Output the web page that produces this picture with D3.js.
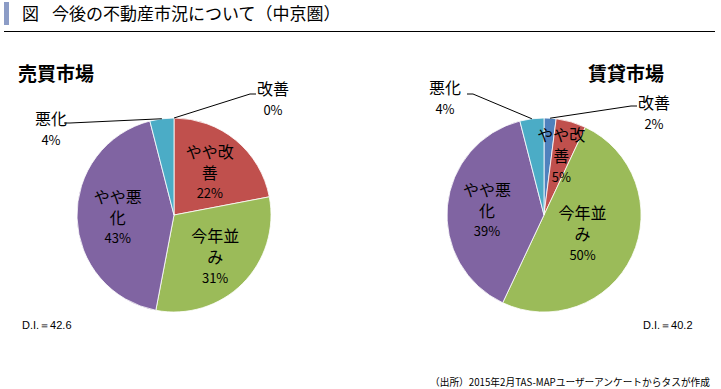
<!DOCTYPE html>
<html>
<head>
<meta charset="utf-8">
<script src="https://cdn.jsdelivr.net/npm/d3@7"></script>
<style>
  body { margin: 0; background: #fff; }
  svg { display: block; font-family: "Noto Sans CJK JP", sans-serif; }
</style>
</head>
<body>
<svg id="chart" width="721" height="389"></svg>
<script>
// Data
const categories = ["改善", "やや改善", "今年並み", "やや悪化", "悪化"];
const salesValues = [0, 22, 31, 43, 4];     // 売買市場
const rentValues = [2, 5, 50, 39, 4];       // 賃貸市場
const labelLines = [["改善"], ["やや改", "善"], ["今年並", "み"], ["やや悪", "化"], ["悪化"]];
const colors = ["#4F81BD", "#C0504D", "#9BBB59", "#8064A2", "#4BACC6"];

const svg = d3.select("#chart");

// Title
svg.append("rect")
    .attr("x", 4).attr("y", 2).attr("width", 5).attr("height", 23)
    .attr("fill", "#8c9cc6");
svg.append("text")
    .attr("x", 22).attr("y", 20)
    .style("font-size", "17px")
    .text("図");
svg.append("text")
    .attr("x", 52).attr("y", 20)
    .style("font-size", "17px")
    .text("今後の不動産市況について（中京圏）");
svg.append("line")
    .attr("x1", 4).attr("x2", 715)
    .attr("y1", 31.5).attr("y2", 31.5)
    .attr("stroke", "#000").attr("stroke-width", 1);

// Pie layouts
const radius = 97;
const charts = [
    {
        title: "売買市場", titleX: 18, values: salesValues,
        cx: 174, cy: 215, di: "D.I.＝42.6", diX: 22,
        labelR: [0, 0.58, 0.6, 0.58, 0],
        outside: { 0: { x: 257, y: 88, lx: 250, ly: 94 }, 4: { x: 35, y: 118, lx: 70, ly: 123 } }
    },
    {
        title: "賃貸市場", titleX: 588, values: rentValues,
        cx: 544, cy: 215, di: "D.I.＝40.2", diX: 643,
        labelR: [0, 0.64, 0.44, 0.59, 0],
        outside: { 0: { x: 638, y: 102, lx: 631, ly: 106 }, 4: { x: 429, y: 87, lx: 473, ly: 94 } }
    }
];

const pie = d3.pie().sort(null).value(d => d);
const arc = d3.arc().innerRadius(0).outerRadius(radius);

charts.forEach(c => {
    const g = svg.append("g").attr("transform", `translate(${c.cx},${c.cy})`);
    const arcs = pie(c.values);

    // slices
    g.selectAll("path.slice")
        .data(arcs)
        .enter()
        .append("path")
        .attr("class", "slice")
        .attr("d", arc)
        .attr("fill", (d, i) => colors[i])
        .attr("stroke", "#fff")
        .attr("stroke-width", 0.8);

    // inside labels, one text per line
    arcs.forEach((d, i) => {
        if (c.outside[i]) return;
        const r = radius * c.labelR[i];
        const a = (d.startAngle + d.endAngle) / 2;
        const x = Math.sin(a) * r;
        const y = -Math.cos(a) * r;
        const lines = labelLines[i].concat([c.values[i] + "%"]);
        lines.forEach((s, k) => {
            g.append("text")
                .attr("x", x)
                .attr("y", y + (k - (lines.length - 1) / 2) * 21)
                .attr("text-anchor", "middle")
                .attr("dominant-baseline", "central")
                .style("font-size", k === lines.length - 1 ? "13px" : "16px")
                .text(s);
        });
    });

    // outside labels with leader lines
    Object.keys(c.outside).forEach(key => {
        const i = +key;
        const o = c.outside[i];
        const d = arcs[i];
        const a = (d.startAngle + d.endAngle) / 2;
        const px = c.cx + Math.sin(a) * radius;
        const py = c.cy - Math.cos(a) * radius;
        svg.append("polyline")
            .attr("points", `${px},${py} ${o.lx},${o.ly} ${o.x < c.cx ? o.lx - 6 : o.lx + 6},${o.ly}`)
            .attr("fill", "none")
            .attr("stroke", "#000")
            .attr("stroke-width", 1);
        svg.append("text")
            .attr("x", o.x).attr("y", o.y)
            .attr("dominant-baseline", "central")
            .style("font-size", "16px")
            .text(labelLines[i][0]);
        svg.append("text")
            .attr("x", o.x + 16).attr("y", o.y + 21)
            .attr("text-anchor", "middle")
            .attr("dominant-baseline", "central")
            .style("font-size", "13px")
            .text(c.values[i] + "%");
    });

    // chart title
    svg.append("text")
        .attr("x", c.titleX).attr("y", 72)
        .attr("dominant-baseline", "central")
        .style("font-size", "19px")
        .style("font-weight", "bold")
        .text(c.title);

    // D.I.
    svg.append("text")
        .attr("x", c.diX).attr("y", 325)
        .attr("dominant-baseline", "central")
        .style("font-family", "'Liberation Sans', Arial, sans-serif")
        .style("font-size", "11px")
        .text(c.di);
});

// Source
svg.append("text")
    .attr("x", 430).attr("y", 381)
    .attr("dominant-baseline", "central")
    .attr("textLength", 280)
    .attr("lengthAdjust", "spacingAndGlyphs")
    .style("font-size", "10px")
    .text("（出所）2015年2月TAS-MAPユーザーアンケートからタスが作成");
</script>
</body>
</html>
